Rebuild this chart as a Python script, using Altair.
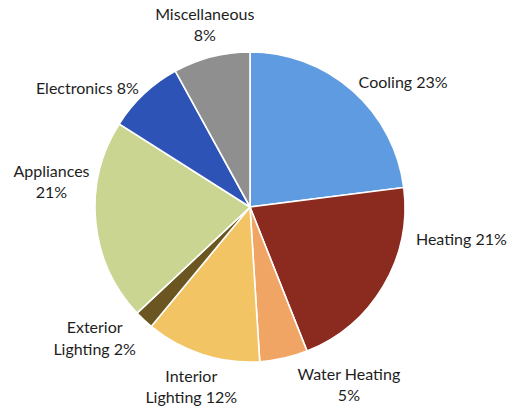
import math
import altair as alt
import pandas as pd

# Residential energy use by end use (percent of total)
categories = ["Cooling", "Heating", "Water Heating", "Interior Lighting",
              "Exterior Lighting", "Appliances", "Electronics", "Miscellaneous"]
shares = [23, 21, 5, 12, 2, 21, 8, 8]
label_lines = [
    ["Cooling 23%"],
    ["Heating 21%"],
    ["Water Heating", "5%"],
    ["Interior", "Lighting 12%"],
    ["Exterior", "Lighting 2%"],
    ["Appliances", "21%"],
    ["Electronics 8%"],
    ["Miscellaneous", "8%"],
]
colors = ["#5f9be1", "#8b2a1e", "#f1a565", "#f2c463",
          "#6b5520", "#cad591", "#2d53b7", "#8f8f8f"]

# Label placement around the pie: angular nudge (degrees) from slice middle,
# and distance (px) of the label block's centre from the pie centre
label_nudge_deg = [9.6, -21.6, -16.4, 0.0, 6.4, 12.4, -10.8, 0.4]
label_radius = [197, 214, 204, 190, 204, 200, 201, 187]

PIE_R = 155
LINE_H = 21.5

df = pd.DataFrame({"category": categories, "share": shares, "order": range(len(categories))})

# Label table: middle angle of each slice from cumulative shares, then the
# anchor of the first text line so that each block is centred on its spot
total = sum(shares)
angs, rads, acc = [], [], 0.0
for s, nudge, r, lines in zip(shares, label_nudge_deg, label_radius, label_lines):
    a = (acc + s / 2) / total * 2 * math.pi + math.radians(nudge)
    acc += s
    bx = r * math.sin(a)
    by = -r * math.cos(a) - LINE_H * (len(lines) - 1) / 2
    angs.append(math.atan2(bx, -by))
    rads.append(math.hypot(bx, by))

lab = pd.DataFrame({"category": categories, "lines": label_lines, "ang": angs, "rad": rads})

pie = alt.Chart(df).mark_arc(
    outerRadius=PIE_R, stroke="white", strokeWidth=1.6
).encode(
    theta=alt.Theta("share:Q", stack=True),
    order=alt.Order("order:Q"),
    color=alt.Color("category:N", scale=alt.Scale(domain=categories, range=colors), legend=None),
)

labels = alt.Chart(lab).mark_text(
    font="Lato", fontSize=16, color="#1e1e1e", align="center",
    baseline="middle", lineHeight=LINE_H,
).encode(
    theta=alt.Theta("ang:Q", scale=None),
    radius=alt.Radius("rad:Q", scale=None),
    text="lines",
)

chart = alt.layer(pie, labels).properties(
    width=500, height=404,
    padding={"left": 0, "top": 5, "right": 11, "bottom": 0},
    autosize=alt.AutoSizeParams(type="none"),
).configure_view(stroke=None).configure(background="white")

chart.save("out.html", embed_options={"renderer": "svg", "actions": False})
